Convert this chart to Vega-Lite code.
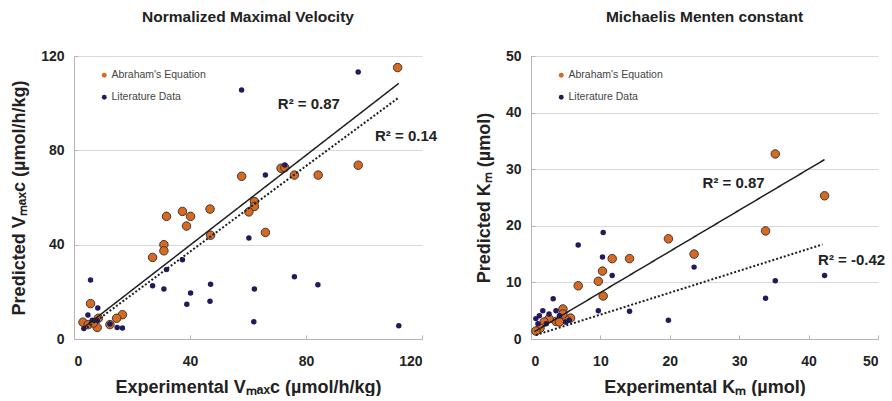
{
  "$schema": "https://vega.github.io/schema/vega-lite/v6.json",
  "background": "white",
  "padding": {"left": 10, "top": 9, "right": 0, "bottom": 0},
  "spacing": 37,
  "datasets": {
    "vmax": [
      {"series": "Abraham's Equation", "x": 111.6, "y": 115.1},
      {"series": "Abraham's Equation", "x": 98.0, "y": 73.7},
      {"series": "Abraham's Equation", "x": 84.2, "y": 69.5},
      {"series": "Abraham's Equation", "x": 76.0, "y": 69.5},
      {"series": "Abraham's Equation", "x": 71.4, "y": 72.4},
      {"series": "Abraham's Equation", "x": 72.7, "y": 72.7},
      {"series": "Abraham's Equation", "x": 57.8, "y": 69.0},
      {"series": "Abraham's Equation", "x": 62.2, "y": 58.3},
      {"series": "Abraham's Equation", "x": 62.2, "y": 56.2},
      {"series": "Abraham's Equation", "x": 60.3, "y": 53.9},
      {"series": "Abraham's Equation", "x": 66.0, "y": 45.2},
      {"series": "Abraham's Equation", "x": 46.9, "y": 55.1},
      {"series": "Abraham's Equation", "x": 47.1, "y": 44.0},
      {"series": "Abraham's Equation", "x": 37.4, "y": 54.1},
      {"series": "Abraham's Equation", "x": 40.2, "y": 52.0},
      {"series": "Abraham's Equation", "x": 38.8, "y": 47.9},
      {"series": "Abraham's Equation", "x": 31.9, "y": 52.0},
      {"series": "Abraham's Equation", "x": 31.0, "y": 40.0},
      {"series": "Abraham's Equation", "x": 31.0, "y": 37.4},
      {"series": "Abraham's Equation", "x": 27.1, "y": 34.6},
      {"series": "Abraham's Equation", "x": 16.7, "y": 10.3},
      {"series": "Abraham's Equation", "x": 14.7, "y": 8.8},
      {"series": "Abraham's Equation", "x": 12.4, "y": 6.1},
      {"series": "Abraham's Equation", "x": 5.7, "y": 15.0},
      {"series": "Abraham's Equation", "x": 8.4, "y": 8.8},
      {"series": "Abraham's Equation", "x": 8.0, "y": 4.9},
      {"series": "Abraham's Equation", "x": 3.1, "y": 7.1},
      {"series": "Abraham's Equation", "x": 4.9, "y": 6.1},
      {"series": "Abraham's Equation", "x": 6.7, "y": 6.8},
      {"series": "Literature Data", "x": 98.0, "y": 113.2},
      {"series": "Literature Data", "x": 57.8, "y": 105.6},
      {"series": "Literature Data", "x": 112.0, "y": 5.6},
      {"series": "Literature Data", "x": 72.7, "y": 73.8},
      {"series": "Literature Data", "x": 66.0, "y": 69.5},
      {"series": "Literature Data", "x": 60.3, "y": 42.8},
      {"series": "Literature Data", "x": 62.2, "y": 21.2},
      {"series": "Literature Data", "x": 62.0, "y": 7.3},
      {"series": "Literature Data", "x": 76.0, "y": 26.4},
      {"series": "Literature Data", "x": 84.1, "y": 23.0},
      {"series": "Literature Data", "x": 47.1, "y": 23.2},
      {"series": "Literature Data", "x": 46.9, "y": 16.0},
      {"series": "Literature Data", "x": 40.2, "y": 19.5},
      {"series": "Literature Data", "x": 38.9, "y": 14.7},
      {"series": "Literature Data", "x": 37.4, "y": 33.6},
      {"series": "Literature Data", "x": 31.9, "y": 29.5},
      {"series": "Literature Data", "x": 31.0, "y": 21.2},
      {"series": "Literature Data", "x": 27.1, "y": 22.6},
      {"series": "Literature Data", "x": 5.7, "y": 25.0},
      {"series": "Literature Data", "x": 8.2, "y": 13.1},
      {"series": "Literature Data", "x": 4.8, "y": 10.2},
      {"series": "Literature Data", "x": 16.7, "y": 4.7},
      {"series": "Literature Data", "x": 14.9, "y": 4.9},
      {"series": "Literature Data", "x": 12.4, "y": 6.4},
      {"series": "Literature Data", "x": 3.4, "y": 4.4},
      {"series": "Literature Data", "x": 6.3, "y": 8.0},
      {"series": "Literature Data", "x": 8.0, "y": 7.8}
    ],
    "vmaxFit": [
      {"fit": "Abraham's Equation", "x": 3.4, "y": 4.9},
      {"fit": "Abraham's Equation", "x": 112, "y": 108.4},
      {"fit": "Literature Data", "x": 3.4, "y": 3.8},
      {"fit": "Literature Data", "x": 112, "y": 102.4}
    ],
    "vmaxR2": [
      {"label": "R² = 0.87", "x": 81, "y": 99.5},
      {"label": "R² = 0.14", "x": 114.5, "y": 86}
    ],
    "km": [
      {"series": "Abraham's Equation", "x": 35.2, "y": 32.7},
      {"series": "Abraham's Equation", "x": 42.3, "y": 25.3},
      {"series": "Abraham's Equation", "x": 33.8, "y": 19.1},
      {"series": "Abraham's Equation", "x": 19.8, "y": 17.7},
      {"series": "Abraham's Equation", "x": 23.5, "y": 15.0},
      {"series": "Abraham's Equation", "x": 14.2, "y": 14.2},
      {"series": "Abraham's Equation", "x": 11.7, "y": 14.2},
      {"series": "Abraham's Equation", "x": 10.3, "y": 12.0},
      {"series": "Abraham's Equation", "x": 9.7, "y": 10.2},
      {"series": "Abraham's Equation", "x": 6.8, "y": 9.4},
      {"series": "Abraham's Equation", "x": 10.4, "y": 7.6},
      {"series": "Abraham's Equation", "x": 4.6, "y": 5.3},
      {"series": "Abraham's Equation", "x": 5.7, "y": 3.7},
      {"series": "Abraham's Equation", "x": 5.0, "y": 3.4},
      {"series": "Abraham's Equation", "x": 3.6, "y": 3.1},
      {"series": "Abraham's Equation", "x": 2.6, "y": 3.6},
      {"series": "Abraham's Equation", "x": 1.9, "y": 3.0},
      {"series": "Abraham's Equation", "x": 1.3, "y": 1.9},
      {"series": "Abraham's Equation", "x": 0.7, "y": 1.4},
      {"series": "Abraham's Equation", "x": 4.6, "y": 4.4},
      {"series": "Abraham's Equation", "x": 4.1, "y": 3.0},
      {"series": "Literature Data", "x": 10.4, "y": 18.8},
      {"series": "Literature Data", "x": 6.8, "y": 16.6},
      {"series": "Literature Data", "x": 10.3, "y": 14.5},
      {"series": "Literature Data", "x": 11.7, "y": 11.2},
      {"series": "Literature Data", "x": 23.5, "y": 12.7},
      {"series": "Literature Data", "x": 42.3, "y": 11.2},
      {"series": "Literature Data", "x": 35.2, "y": 10.3},
      {"series": "Literature Data", "x": 33.8, "y": 7.2},
      {"series": "Literature Data", "x": 9.7, "y": 5.0},
      {"series": "Literature Data", "x": 14.2, "y": 4.9},
      {"series": "Literature Data", "x": 19.8, "y": 3.3},
      {"series": "Literature Data", "x": 3.2, "y": 7.1},
      {"series": "Literature Data", "x": 1.7, "y": 5.0},
      {"series": "Literature Data", "x": 1.2, "y": 4.1},
      {"series": "Literature Data", "x": 0.7, "y": 3.6},
      {"series": "Literature Data", "x": 3.6, "y": 5.0},
      {"series": "Literature Data", "x": 4.1, "y": 4.1},
      {"series": "Literature Data", "x": 5.0, "y": 3.0},
      {"series": "Literature Data", "x": 5.5, "y": 3.3},
      {"series": "Literature Data", "x": 2.2, "y": 2.7},
      {"series": "Literature Data", "x": 2.6, "y": 4.4},
      {"series": "Literature Data", "x": 1.0, "y": 2.7}
    ],
    "kmFit": [
      {"fit": "Abraham's Equation", "x": 0.5, "y": 1.3},
      {"fit": "Abraham's Equation", "x": 42.3, "y": 31.7},
      {"fit": "Literature Data", "x": 0.7, "y": 0.7},
      {"fit": "Literature Data", "x": 42.0, "y": 16.7}
    ],
    "kmR2": [
      {"label": "R² = 0.87", "x": 29.2, "y": 27.5},
      {"label": "R² = -0.42", "x": 46.2, "y": 14.0}
    ]
  },
  "config": {
    "view": {"stroke": null},
    "font": "Liberation Sans",
    "title": {"font": "Liberation Sans", "fontSize": 15.5, "fontWeight": "bold", "color": "#222", "anchor": "middle", "offset": 24},
    "axis": {
      "labelFont": "Liberation Sans",
      "labelFontSize": 14,
      "labelFontWeight": "bold",
      "labelColor": "#222",
      "labelOverlap": false,
      "titleFont": "Liberation Sans",
      "titleFontSize": 18,
      "titleFontWeight": "bold",
      "titleColor": "#222",
      "domainColor": "#b5b5b5",
      "tickColor": "#b5b5b5",
      "gridColor": "#d9d9d9",
      "tickSize": -4,
      "labelPadding": 14
    },
    "legend": {
      "orient": "none",
      "legendX": 25,
      "legendY": 14,
      "title": null,
      "padding": 0,
      "labelFont": "Liberation Sans",
      "labelFontSize": 10.5,
      "labelColor": "#444",
      "symbolType": "circle",
      "symbolSize": 24,
      "symbolStrokeWidth": 0,
      "labelOffset": 2,
      "rowPadding": 11
    }
  },
  "resolve": {"legend": {"color": "independent"}, "scale": {"x": "independent", "y": "independent"}, "axis": {"x": "independent", "y": "independent"}},
  "hconcat": [
    {
      "title": "Normalized Maximal Velocity",
      "width": 348,
      "height": 283,
      "resolve": {"scale": {"strokeWidth": "independent"}},
      "layer": [
        {
          "data": {"name": "vmax"},
          "mark": {"type": "point", "filled": true, "opacity": 1, "stroke": "#3a3a3a"},
          "encoding": {
            "x": {"field": "x", "type": "quantitative", "scale": {"domain": [0, 120], "nice": false},
              "axis": {"title": "Experimental Vₘₐₓc (µmol/h/kg)", "values": [0, 40, 80, 120], "grid": false, "labelPadding": 19, "titlePadding": 10}},
            "y": {"field": "y", "type": "quantitative", "scale": {"domain": [0, 120], "nice": false},
              "axis": {"title": "Predicted Vₘₐₓc (µmol/h/kg)", "values": [0, 40, 80, 120], "titlePadding": 12}},
            "color": {"field": "series", "type": "nominal", "scale": {"domain": ["Abraham's Equation", "Literature Data"], "range": ["#D9691E", "#231A5C"]}},
            "size": {"field": "series", "type": "nominal", "scale": {"domain": ["Abraham's Equation", "Literature Data"], "range": [72, 30]}, "legend": null},
            "strokeWidth": {"field": "series", "type": "nominal", "scale": {"domain": ["Abraham's Equation", "Literature Data"], "range": [1, 0]}, "legend": null}
          }
        },
        {
          "data": {"name": "vmaxFit"},
          "mark": {"type": "line", "color": "#1e1e1e"},
          "encoding": {
            "x": {"field": "x", "type": "quantitative"},
            "y": {"field": "y", "type": "quantitative"},
            "strokeDash": {"field": "fit", "type": "nominal", "scale": {"domain": ["Abraham's Equation", "Literature Data"], "range": [[1, 0], [2, 2]]}, "legend": null},
            "strokeWidth": {"field": "fit", "type": "nominal", "scale": {"domain": ["Abraham's Equation", "Literature Data"], "range": [1.5, 2]}, "legend": null}
          }
        },
        {
          "data": {"name": "vmaxR2"},
          "mark": {"type": "text", "fontSize": 15, "fontWeight": "bold", "color": "#222", "font": "Liberation Sans"},
          "encoding": {
            "x": {"field": "x", "type": "quantitative"},
            "y": {"field": "y", "type": "quantitative"},
            "text": {"field": "label"}
          }
        }
      ]
    },
    {
      "title": "Michaelis Menten constant",
      "width": 347,
      "height": 283,
      "resolve": {"scale": {"strokeWidth": "independent"}},
      "layer": [
        {
          "data": {"name": "km"},
          "mark": {"type": "point", "filled": true, "opacity": 1, "stroke": "#3a3a3a"},
          "encoding": {
            "x": {"field": "x", "type": "quantitative", "scale": {"domain": [0, 50], "nice": false},
              "axis": {"title": "Experimental Kₘ (µmol)", "values": [0, 10, 20, 30, 40, 50], "grid": false, "labelPadding": 19, "titlePadding": 10}},
            "y": {"field": "y", "type": "quantitative", "scale": {"domain": [0, 50], "nice": false},
              "axis": {"title": "Predicted Kₘ (µmol)", "values": [0, 10, 20, 30, 40, 50], "titlePadding": 12}},
            "color": {"field": "series", "type": "nominal", "scale": {"domain": ["Abraham's Equation", "Literature Data"], "range": ["#D9691E", "#231A5C"]}},
            "size": {"field": "series", "type": "nominal", "scale": {"domain": ["Abraham's Equation", "Literature Data"], "range": [72, 30]}, "legend": null},
            "strokeWidth": {"field": "series", "type": "nominal", "scale": {"domain": ["Abraham's Equation", "Literature Data"], "range": [1, 0]}, "legend": null}
          }
        },
        {
          "data": {"name": "kmFit"},
          "mark": {"type": "line", "color": "#1e1e1e"},
          "encoding": {
            "x": {"field": "x", "type": "quantitative"},
            "y": {"field": "y", "type": "quantitative"},
            "strokeDash": {"field": "fit", "type": "nominal", "scale": {"domain": ["Abraham's Equation", "Literature Data"], "range": [[1, 0], [2, 2]]}, "legend": null},
            "strokeWidth": {"field": "fit", "type": "nominal", "scale": {"domain": ["Abraham's Equation", "Literature Data"], "range": [1.5, 2]}, "legend": null}
          }
        },
        {
          "data": {"name": "kmR2"},
          "mark": {"type": "text", "fontSize": 15, "fontWeight": "bold", "color": "#222", "font": "Liberation Sans"},
          "encoding": {
            "x": {"field": "x", "type": "quantitative"},
            "y": {"field": "y", "type": "quantitative"},
            "text": {"field": "label"}
          }
        }
      ]
    }
  ]
}
